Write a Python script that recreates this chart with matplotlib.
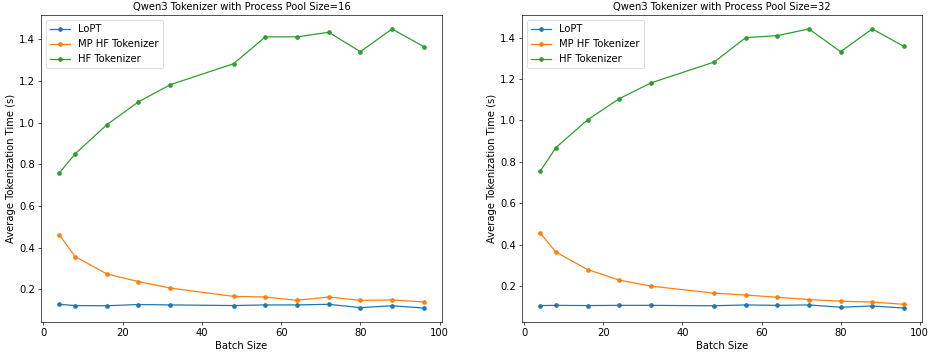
import matplotlib
matplotlib.use("Agg")
import matplotlib.pyplot as plt

batch_sizes = [4, 8, 16, 24, 32, 48, 56, 64, 72, 80, 88, 96]

lopt_16 = [0.128, 0.122, 0.121, 0.127, 0.125, 0.122, 0.125, 0.125, 0.128, 0.112, 0.121, 0.110]
mp_hf_16 = [0.463, 0.357, 0.274, 0.237, 0.206, 0.166, 0.163, 0.147, 0.163, 0.147, 0.149, 0.139]
hf_16 = [0.758, 0.850, 0.990, 1.100, 1.182, 1.283, 1.412, 1.412, 1.434, 1.341, 1.450, 1.365]

lopt_32 = [0.105, 0.106, 0.105, 0.106, 0.106, 0.104, 0.108, 0.106, 0.108, 0.097, 0.103, 0.093]
mp_hf_32 = [0.455, 0.363, 0.279, 0.228, 0.199, 0.165, 0.156, 0.145, 0.134, 0.126, 0.122, 0.111]
hf_32 = [0.754, 0.869, 1.003, 1.105, 1.181, 1.282, 1.400, 1.410, 1.442, 1.332, 1.442, 1.358]

pool_sizes = [16, 32]
series_labels = ["LoPT", "MP HF Tokenizer", "HF Tokenizer"]
data = {16: [lopt_16, mp_hf_16, hf_16], 32: [lopt_32, mp_hf_32, hf_32]}

DPI = 60
W, H = 929, 354
fig = plt.figure(figsize=(W / DPI, H / DPI), dpi=DPI)

positions = [(41, 442), (522, 922)]
top_px, bottom_px = 15, 322
for (x0, x1), pool in zip(positions, pool_sizes):
    ax = fig.add_axes([x0 / W, 1 - bottom_px / H, (x1 - x0) / W, (bottom_px - top_px) / H])
    for vals, lab in zip(data[pool], series_labels):
        ax.plot(batch_sizes, vals, marker="o", markersize=4.5, label=lab)
    ax.set_title(f"Qwen3 Tokenizer with Process Pool Size={pool}", fontsize=12)
    ax.set_xlabel("Batch Size", fontsize=12)
    ax.set_ylabel("Average Tokenization Time (s)", fontsize=12)
    ax.tick_params(labelsize=12)
    ax.legend(loc="upper left", fontsize=12)

fig.savefig("out.png", dpi=DPI)
